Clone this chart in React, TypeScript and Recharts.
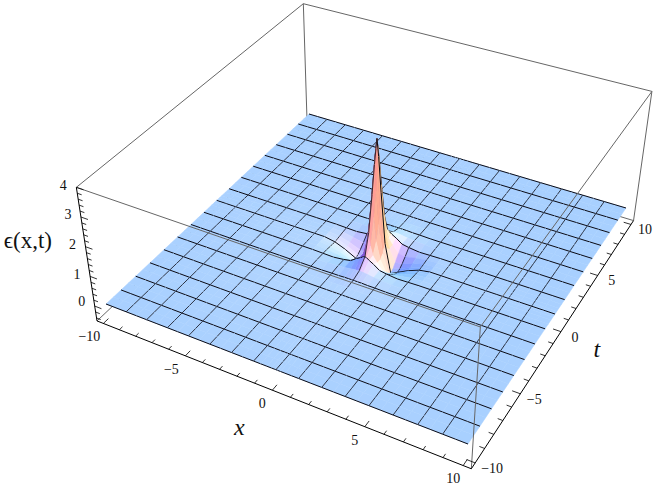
import React from "react";
import { ScatterChart, Scatter, XAxis, YAxis } from "recharts";

const W = 653, H = 488;
// mesh nodes of the surface (x and t share them)
const NODES = [-10,-9.375,-8.75,-8.125,-7.5,-6.875,-6.25,-5.625,-5,-4.375,-3.75,-3.125,-2.5,-1.875,-1.25,-0.85,-0.5,-0.25,-0.1,0,0.1,0.25,0.5,0.85,1.25,1.875,2.5,3.125,3.75,4.375,5,5.625,6.25,6.875,7.5,8.125,8.75,9.375,10];
const CORE_NODES = [-2.5,-1.875,-1.25,-0.85,-0.5,-0.25,-0.1,0,0.1,0.25,0.5,0.85,1.25,1.875,2.5];
// rows run t = 2.5 ... -2.5, columns x = -2.5 ... 2.5
const CORE_T = [2.5,1.875,1.25,0.85,0.5,0.25,0.1,0,-0.1,-0.25,-0.5,-0.85,-1.25,-1.875,-2.5];
const CORE_EPS = [
[0,0,0.01,0.01,0.02,0.02,0.02,0.02,0.02,0.02,0.02,0.01,0.01,0,0],
[0,0.01,0.03,0.05,0.08,0.1,0.1,0.1,0.1,0.1,0.08,0.05,0.03,0.01,0],
[-0.01,-0.02,0.02,0.06,0.2,0.28,0.34,0.36,0.34,0.28,0.2,0.06,0.02,-0.02,-0.01],
[-0.02,-0.08,-0.15,-0.12,0.1,0.3,0.6,1.03,0.6,0.3,0.1,-0.12,-0.15,-0.08,-0.02],
[-0.04,-0.14,-0.28,-0.3,0.08,0.65,1.45,2.2,1.45,0.65,0.08,-0.3,-0.28,-0.14,-0.04],
[-0.05,-0.18,-0.35,-0.42,0.2,1.15,2.25,3.15,2.25,1.15,0.2,-0.42,-0.35,-0.18,-0.05],
[-0.06,-0.19,-0.37,-0.45,0.35,1.6,2.9,3.65,2.9,1.6,0.35,-0.45,-0.37,-0.19,-0.06],
[-0.06,-0.2,-0.38,-0.5,0.45,2.15,3.35,3.95,3.35,2.15,0.45,-0.5,-0.38,-0.2,-0.06],
[-0.06,-0.19,-0.37,-0.45,0.35,1.6,2.9,3.65,2.9,1.6,0.35,-0.45,-0.37,-0.19,-0.06],
[-0.05,-0.18,-0.35,-0.42,0.2,1.15,2.25,3.15,2.25,1.15,0.2,-0.42,-0.35,-0.18,-0.05],
[-0.04,-0.14,-0.28,-0.3,0.08,0.65,1.45,2.2,1.45,0.65,0.08,-0.3,-0.28,-0.14,-0.04],
[-0.02,-0.08,-0.15,-0.12,0.1,0.3,0.6,1.03,0.6,0.3,0.1,-0.12,-0.15,-0.08,-0.02],
[-0.01,-0.02,0.02,0.06,0.2,0.28,0.34,0.36,0.34,0.28,0.2,0.06,0.02,-0.02,-0.01],
[0,0.01,0.03,0.05,0.08,0.1,0.1,0.1,0.1,0.1,0.08,0.05,0.03,0.01,0],
[0,0,0.01,0.01,0.02,0.02,0.02,0.02,0.02,0.02,0.02,0.01,0.01,0,0],
];
const MESH_STEP = 1.25;
const X_TICK_VALUES = [-10,-9,-8,-7,-6,-5,-4,-3,-2,-1,0,1,2,3,4,5,6,7,8,9,10];
const Z_TICK_VALUES = [-0.4,-0.2,0,0.2,0.4,0.6,0.8,1,1.2,1.4,1.6,1.8,2,2.2,2.4,2.6,2.8,3,3.2,3.4,3.6,3.8,4];
const X_LABELS = [-10,-5,0,5,10];
const T_LABELS = [-10,-5,0,5,10];
const Z_LABELS = [0,1,2,3,4];

// view of the 3D box
const BOX = 10.4, ZMIN = -0.5, ZMAX = 4;
const Q = [[106,304],[468,444],[626,208],[309,114]];
const VP = [369,2081];
const PX_PER_Z = [30,31.5,29,26.5];

const [g, hh, a, b, c, d, e, f] = (() => {
  const [[x0,y0],[x1,y1],[x2,y2],[x3,y3]] = Q;
  const dx1=x1-x2, dx2=x3-x2, sx=x0-x1+x2-x3, dy1=y1-y2, dy2=y3-y2, sy=y0-y1+y2-y3;
  const det=dx1*dy2-dx2*dy1;
  const G=(sx*dy2-dx2*sy)/det, H_=(dx1*sy-sx*dy1)/det;
  return [G,H_,x1-x0+G*x1,x3-x0+H_*x3,x0,y1-y0+G*y1,y3-y0+H_*y3,y0];
})();
function project(x:number,t:number,z:number){
  const u=(x+10)/20, v=(t+10)/20;
  const w=g*u+hh*v+1;
  const bx=(a*u+b*v+c)/w, by=(d*u+e*v+f)/w;
  const k=(1-u)*(1-v)*PX_PER_Z[0]+u*(1-v)*PX_PER_Z[1]+u*v*PX_PER_Z[2]+(1-u)*v*PX_PER_Z[3];
  const dx=bx-VP[0], dy=by-VP[1], L=Math.hypot(dx,dy);
  return {sx:bx+dx/L*z*k, sy:by+dy/L*z*k};
}
function eps(x:number,t:number){
  const i=CORE_NODES.indexOf(x), j=CORE_T.indexOf(t);
  return i<0||j<0?0:CORE_EPS[j][i];
}
// Mathematica-like coloured lights
const R=[0.86,0.5,0], U=[-0.35,0.6,0.72], V=[0.36,-0.62,0.70];
function shade(nx:number,nt:number,nz:number,x:number,t:number){
  const l=Math.hypot(nx,nt,nz); const n=[nx/l,nt/l,nz/l];
  const nr=n[0]*R[0]+n[1]*R[1]+n[2]*R[2], nu=n[0]*U[0]+n[1]*U[1]+n[2]*U[2], nv=n[0]*V[0]+n[1]*V[1]+n[2]*V[2];
  const lr=Math.max(0,0.707*nr+0.707*nv), lg=Math.max(0,0.577*(nr+nu+nv)), lb=Math.max(0,0.707*nu+0.707*nv);
  const st=1-n[2];
  let r=(0.312+0.8*lr)*0.93+0.3*st, gg=(0.188+0.8*lg)*0.965+0.14*st, bb=(0.4+0.8*lb)+0.05*st;
  const glow=0.12*Math.exp(-((x+1)*(x+1)+(t+2)*(t+2))/50);
  r+=(1-r)*glow; gg+=(1-gg)*glow; bb+=(1-bb)*glow;
  const q=(p:number)=>Math.round(Math.min(1,Math.max(0,p))*255);
  return `rgb(${q(r)},${q(gg)},${q(bb)})`;
}
const isMesh=(x:number)=>Math.abs(x/MESH_STEP-Math.round(x/MESH_STEP))<1e-6;

const N=NODES.length-1, S=1.78;
const normals:number[][][]=[];
for(let j=0;j<N;j++){const row:number[][]=[];
  for(let i=0;i<N;i++){
    const x0=NODES[i],x1=NODES[i+1],t0=NODES[j],t1=NODES[j+1];
    const z00=eps(x0,t0),z10=eps(x1,t0),z11=eps(x1,t1),z01=eps(x0,t1);
    const zx=((z10-z00)+(z11-z01))/2/(x1-x0), zt=((z01-z00)+(z11-z10))/2/(t1-t0);
    const nx=-S*zx, nt=-S*zt, L=Math.hypot(nx,nt,1);
    row.push([nx/L,nt/L,1/L]);
  }
  normals.push(row);
}
function smooth(i:number,j:number){
  const o=[0,0,0];
  const add=(ii:number,jj:number,w:number)=>{const q=normals[Math.min(N-1,Math.max(0,jj))][Math.min(N-1,Math.max(0,ii))];o[0]+=q[0]*w;o[1]+=q[1]*w;o[2]+=q[2]*w;};
  add(i,j,2);add(i-1,j,1);add(i+1,j,1);add(i,j-1,1);add(i,j+1,1);
  return o;
}
type Seg={x1:number,y1:number,x2:number,y2:number,w:number};
const cells:any[]=[];
for(let j=N-1;j>=0;j--){
  for(let i=0;i<N;i++){
    const x0=NODES[i],x1=NODES[i+1],t0=NODES[j],t1=NODES[j+1];
    const p00=project(x0,t0,eps(x0,t0)),p10=project(x1,t0,eps(x1,t0)),p11=project(x1,t1,eps(x1,t1)),p01=project(x0,t1,eps(x0,t1));
    const segs:Seg[]=[];
    if(isMesh(x0)&&x0>-10) segs.push({x1:p00.sx,y1:p00.sy,x2:p01.sx,y2:p01.sy,w:0.8});
    if(isMesh(t1)) segs.push({x1:p01.sx,y1:p01.sy,x2:p11.sx,y2:p11.sy,w:1});
    if(t0===-10) segs.push({x1:p00.sx,y1:p00.sy,x2:p10.sx,y2:p10.sy,w:1});
    const m=smooth(i,j);
    cells.push({sx:p00.sx,sy:p00.sy,pts:[p00,p10,p11,p01],fill:shade(m[0],m[1],m[2],(x0+x1)/2,(t0+t1)/2),segs});
  }
}
const CellShape=(props:any)=>{
  const {payload:p,cx,cy}=props;
  const ox=(cx??p.sx)-p.sx, oy=(cy??p.sy)-p.sy;
  return <g>
    <polygon points={p.pts.map((q:any)=>`${q.sx+ox},${q.sy+oy}`).join(" ")} fill={p.fill} stroke={p.fill} strokeWidth={0.5}/>
    {p.segs.map((s:Seg,i:number)=><line key={i} x1={s.x1+ox} y1={s.y1+oy} x2={s.x2+ox} y2={s.y2+oy} stroke="#0a0a14" strokeWidth={s.w}/>)}
  </g>;
};
const None=()=><g/>;
const edge=(a1:number[],a2:number[])=>[project(a1[0],a1[1],a1[2]),project(a2[0],a2[1],a2[2])];
const B=BOX;
const BACK_EDGES=[
  edge([-B,-B,ZMAX],[-B,B,ZMAX]),edge([-B,B,ZMAX],[B,B,ZMAX]),edge([-B,B,ZMAX],[-B,B,ZMIN]),
  edge([B,B,ZMAX],[B,B,ZMIN]),edge([-B,-B,ZMIN],[-B,B,ZMIN]),edge([-B,B,ZMIN],[B,B,ZMIN]),
];
const FRONT_EDGES=[
  edge([-B,-B,ZMAX],[B,-B,ZMAX]),edge([B,-B,ZMAX],[B,B,ZMAX]),edge([B,-B,ZMAX],[B,-B,ZMIN]),
];
const AXIS_EDGES=[
  edge([-B,-B,ZMIN],[B,-B,ZMIN]),edge([B,-B,ZMIN],[B,B,ZMIN]),edge([-B,-B,ZMIN],[-B,-B,ZMAX]),
];
const ticks:any[]=[];
const addTick=(p:any,q:any)=>ticks.push({sx:p.sx,sy:p.sy,ex:q.sx,ey:q.sy});
X_TICK_VALUES.forEach(v=>{const m=v%5===0;
  addTick(project(v,-B,ZMIN),project(v,-B+(m?0.42:0.26),ZMIN));
  addTick(project(B,v,ZMIN),project(B-(m?0.42:0.26),v,ZMIN));
});
Z_TICK_VALUES.forEach(v=>{const m=Math.abs(v-Math.round(v))<1e-6;
  addTick(project(-B,-B,v),project(-B+(m?0.42:0.26),-B,v));
});
const TickShape=(props:any)=>{
  const {payload:p,cx,cy}=props; const ox=(cx??p.sx)-p.sx, oy=(cy??p.sy)-p.sy;
  return <line x1={p.sx+ox} y1={p.sy+oy} x2={p.ex+ox} y2={p.ey+oy} stroke="#000" strokeWidth={0.8}/>;
};
const labels:any[]=[];
const num=(v:number)=>(v<0?"\u2212"+(-v):String(v));
const SERIF="'Liberation Serif','Times New Roman',serif";
X_LABELS.forEach(v=>{const p=project(v,-B,ZMIN);labels.push({sx:p.sx-(v<0?14:10),sy:p.sy+13,text:num(v),size:14});});
T_LABELS.forEach(v=>{const p=project(B,v,ZMIN);labels.push({sx:p.sx+(v<-5?17:14),sy:p.sy+5,text:num(v),size:14});});
Z_LABELS.forEach(v=>{const p=project(-B,-B,v);labels.push({sx:p.sx-13,sy:p.sy-(v===0?5:2.5),text:num(v),size:14});});
const xT=project(0,-B,ZMIN), tT=project(B,0,ZMIN), zT=project(-B,-B,1.5);
labels.push({sx:xT.sx-33,sy:xT.sy+36,text:"x",size:24,italic:true});
labels.push({sx:tT.sx+36,sy:tT.sy+17,text:"t",size:24,italic:true});
labels.push({sx:zT.sx-60,sy:zT.sy-22,text:"\u03F5(x,t)",size:23});
const LabelShape=(props:any)=>{
  const {payload:p,cx,cy}=props;
  return <text x={cx??p.sx} y={cy??p.sy} dy="0.35em" textAnchor="middle" fontFamily={SERIF} fontSize={p.size} fontStyle={p.italic?"italic":"normal"} fill="#111">{p.text}</text>;
};
const stroke=(color:string,w:number)=>({stroke:color,strokeWidth:w});

export default function App(){
  return <div style={{position:"absolute",left:0,top:0,width:W,height:H,background:"#fff"}}>
    <ScatterChart width={W} height={H} margin={{top:0,right:0,bottom:0,left:0}}>
      <XAxis type="number" dataKey="sx" domain={[0,W]} hide/>
      <YAxis type="number" dataKey="sy" domain={[0,H]} reversed hide/>
      {BACK_EDGES.map((d,i)=><Scatter key={"b"+i} data={d} line={stroke("#666",1)} shape={None} isAnimationActive={false}/>)}
      <Scatter data={cells} shape={CellShape} isAnimationActive={false}/>
      {FRONT_EDGES.map((d,i)=><Scatter key={"f"+i} data={d} line={stroke("#666",1)} shape={None} isAnimationActive={false}/>)}
      {AXIS_EDGES.map((d,i)=><Scatter key={"a"+i} data={d} line={stroke("#000",1)} shape={None} isAnimationActive={false}/>)}
      <Scatter data={ticks} shape={TickShape} isAnimationActive={false}/>
      <Scatter data={labels} shape={LabelShape} isAnimationActive={false}/>
    </ScatterChart>
  </div>;
}
